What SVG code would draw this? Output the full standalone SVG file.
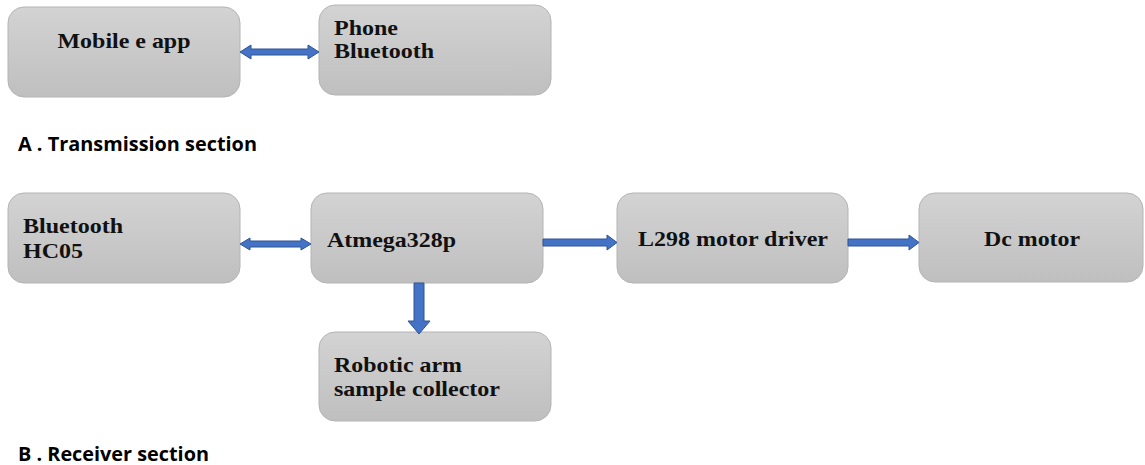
<svg xmlns="http://www.w3.org/2000/svg" width="1145" height="465" viewBox="0 0 1145 465">
<defs>
<linearGradient id="g" x1="0" y1="0" x2="0" y2="1">
<stop offset="0" stop-color="#d3d3d3"/>
<stop offset="1" stop-color="#bfbfbf"/>
</linearGradient>
<style>
.box{fill:url(#g);stroke:#b4b4b4;stroke-width:1}
.t{font-family:"Liberation Serif","Times New Roman",serif;font-weight:bold;font-size:21.5px;fill:#111}
.c{text-anchor:middle}
.lab{font-family:"Open Sans","DejaVu Sans",sans-serif;font-weight:bold;font-size:19px;fill:#000}
.arr{fill:#4472c4;stroke:#2f5597;stroke-width:1}
</style>
</defs>
<rect width="1145" height="465" fill="#fff"/>
<g id="mobile-app"><rect class="box" x="8" y="7" width="232" height="90" rx="16"/><text class="t c" x="124" y="48" textLength="133" lengthAdjust="spacingAndGlyphs">Mobile e app</text></g>
<g id="phone-bt"><rect class="box" x="319" y="5" width="232" height="90" rx="16"/><text class="t" x="334" y="35" textLength="64" lengthAdjust="spacingAndGlyphs">Phone</text><text class="t" x="334" y="58" textLength="100" lengthAdjust="spacingAndGlyphs">Bluetooth</text></g>
<text class="lab" x="18" y="151" textLength="239" lengthAdjust="spacingAndGlyphs">A . Transmission section</text>
<g id="bt-hc05"><rect class="box" x="8" y="193" width="232" height="90" rx="16"/><text class="t" x="23" y="233" textLength="100" lengthAdjust="spacingAndGlyphs">Bluetooth</text><text class="t" x="23" y="258" textLength="60" lengthAdjust="spacingAndGlyphs">HC05</text></g>
<g id="atmega"><rect class="box" x="311" y="193" width="232" height="90" rx="16"/><text class="t" x="327" y="247" textLength="129" lengthAdjust="spacingAndGlyphs">Atmega328p</text></g>
<g id="l298"><rect class="box" x="617" y="193" width="231" height="90" rx="16"/><text class="t c" x="733" y="246" textLength="190" lengthAdjust="spacingAndGlyphs">L298 motor driver</text></g>
<g id="dc-motor"><rect class="box" x="919" y="193" width="224" height="89" rx="16"/><text class="t c" x="1032" y="246" textLength="96" lengthAdjust="spacingAndGlyphs">Dc motor</text></g>
<g id="robotic-arm"><rect class="box" x="319" y="332" width="232" height="89" rx="16"/><text class="t" x="334" y="372" textLength="128" lengthAdjust="spacingAndGlyphs">Robotic arm</text><text class="t" x="334" y="396" textLength="166" lengthAdjust="spacingAndGlyphs">sample collector</text></g>
<text class="lab" x="18" y="461" textLength="191" lengthAdjust="spacingAndGlyphs">B . Receiver section</text>
<g id="connectors">
<path class="arr" d="M240,52 L251,45 L251,49 L308,49 L308,45 L319,52 L308,59 L308,55 L251,55 L251,59 Z"/>
<path class="arr" d="M240,244 L250,238 L250,241 L301,241 L301,238 L311,244 L301,250 L301,247 L250,247 L250,250 Z"/>
<path class="arr" d="M543,239 L607,239 L607,235 L617,242.5 L607,250 L607,246 L543,246 Z"/>
<path class="arr" d="M848,239 L909,239 L909,235 L919,242.5 L909,250 L909,246 L848,246 Z"/>
<path class="arr" d="M414,283 L424,283 L424,321 L430,321 L419,334 L408,321 L414,321 Z"/>
</g>
</svg>
